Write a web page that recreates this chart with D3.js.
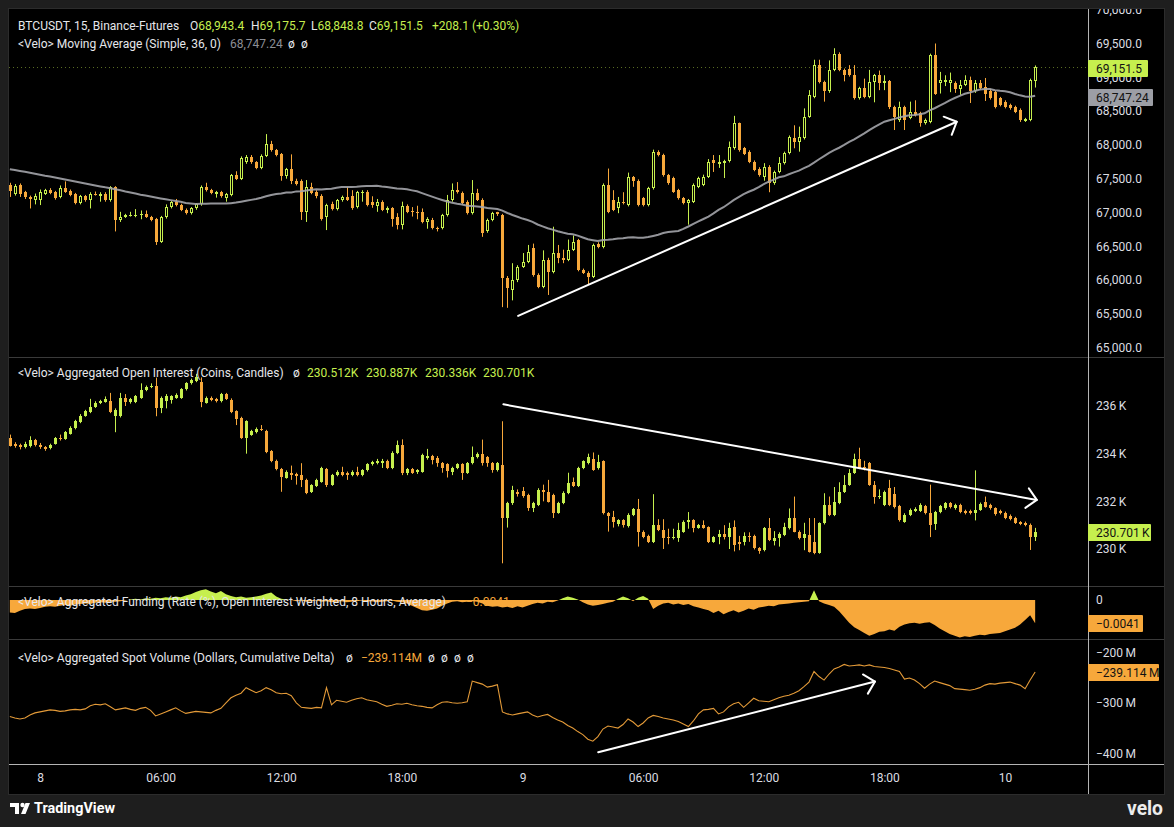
<!DOCTYPE html>
<html><head><meta charset="utf-8">
<script src="https://cdn.jsdelivr.net/npm/d3@7/dist/d3.min.js"></script>
<style>
html,body{margin:0;padding:0;background:#1e1e1e;}
svg{display:block;}
text{font-family:Roboto,"Noto Sans",Arial,sans-serif;}
</style></head><body>
<svg id="chart" width="1174" height="827"></svg>
<script>
// ---------- DATA (15-minute bars, first bar 2024-06-07 22:30 UTC) ----------
const barStart = "2024-06-07T22:30:00Z";

const priceOpen = [
67406,67273,67406,67300,67230,67180,67184,67280,67340,67300,
67230,67360,67320,67270,67140,67240,67180,67280,67250,67280,
67180,67370,66890,66940,66960,66955,66965,66980,66930,66900,
66570,66930,67080,67150,67110,67040,66990,67060,67120,67370,
67330,67280,67300,67220,67260,67550,67500,67740,67820,67740,
67660,67840,68020,67920,67860,67540,67640,67460,67470,67010,
67370,67300,67250,66940,67130,67050,67180,67230,67240,67080,
67290,67310,67160,67090,67160,67040,67060,66940,66820,67090,
67020,67010,67010,66860,66890,66770,66770,66960,67180,67330,
67290,67160,66990,67290,67190,66720,66890,67000,66960,66030,
65850,66000,66200,66270,66470,66075,65900,66300,66120,66400,
66320,66300,66450,66590,66150,66110,66050,66530,66490,67410,
67180,67060,67160,67110,67530,67470,67210,67110,67360,67900,
67850,67550,67510,67330,67210,67140,67160,67380,67410,67530,
67780,67720,67730,67760,67950,68320,67950,67900,67750,67650,
67530,67680,67430,67600,67730,67880,68100,68050,68100,68420,
68710,69180,68930,68790,69110,69350,69110,69130,69030,68690,
68840,68710,68930,69030,68910,68940,68560,68370,68560,68400,
68490,68470,68320,68340,69330,68910,68930,68920,68920,68820,
68890,68960,68790,68910,68860,68790,68780,68690,68640,68590,
68560,68520,68360,68370,68943.4];
const priceHigh = [
67440,67420,67430,67320,67250,67280,67340,67350,67360,67320,
67400,67460,67340,67290,67260,67260,67300,67310,67300,67300,
67390,67390,67010,66980,67010,67050,67030,67030,66950,66920,
66950,67120,67170,67200,67130,67060,67080,67140,67400,67440,
67350,67320,67320,67290,67570,67610,67830,67850,67850,67760,
67860,68160,68060,67940,67880,67660,67860,67500,67490,67480,
67440,67330,67270,67130,67160,67200,67250,67380,67330,67320,
67330,67330,67240,67200,67180,67090,67080,66990,67160,67120,
67080,67100,67060,66930,66920,66790,66980,67260,67430,67450,
67310,67180,67480,67350,67210,66910,67010,67010,66980,66060,
66250,66220,66400,66520,66540,66100,66440,66330,66790,66520,
66450,66600,66660,66610,66170,66130,66540,66560,67430,67650,
67330,67230,67300,67590,67540,67490,67230,67380,67930,67920,
67870,67570,67530,67350,67230,67200,67430,67530,67560,67790,
67850,67850,67780,68050,68430,68330,67970,67920,67770,67670,
67730,67700,67620,67820,67900,68140,68290,68270,68540,68810,
69260,69260,68950,69250,69430,69370,69130,69180,69180,68860,
68980,69110,69050,69100,69030,68960,68580,68640,68580,68640,
68660,68490,68390,69350,69500,69080,69030,69070,68940,68960,
69030,69010,68960,68960,68990,68830,68800,68710,68660,68610,
68580,68540,68400,68980,69175.7];
const priceLow = [
67230,67250,67230,67200,67060,67120,67110,67260,67270,67190,
67210,67290,67240,67120,67120,67160,67060,67250,67160,67160,
67160,66720,66860,66920,66940,66930,66900,66920,66870,66520,
66550,66910,67060,67090,67020,66970,66970,67040,67100,67310,
67270,67220,67220,67160,67240,67480,67480,67720,67720,67640,
67640,67820,67900,67830,67470,67500,67420,67400,66890,66860,
67270,67210,66880,66740,67030,67030,67160,67170,67040,67060,
67160,67090,67070,67010,67020,66990,66790,66750,66750,66990,
66940,66900,66840,66760,66750,66720,66750,66940,67160,67280,
67120,66970,66970,67170,66640,66700,66870,66950,65600,65590,
65700,65970,66180,66250,66050,65880,65880,65780,66100,66250,
66250,66280,66430,66130,66090,65930,66030,66470,66470,66990,
67020,66990,67120,67090,67380,67090,67090,67090,67340,67830,
67530,67410,67290,67190,67120,66820,67140,67360,67390,67510,
67600,67660,67510,67740,67930,67900,67850,67730,67610,67530,
67470,67300,67410,67580,67710,67860,67950,67900,68080,68400,
68690,68910,68640,68770,69090,69090,68940,69010,68670,68670,
68690,68690,68630,68810,68810,68530,68220,68340,68220,68380,
68420,68270,68300,68320,68740,68760,68870,68780,68770,68740,
68870,68620,68770,68820,68650,68670,68540,68570,68540,68520,
68470,68340,68340,68350,68848.8];
const priceClose = [
67322,67396,67273,67230,67200,67250,67300,67330,67290,67210,
67360,67310,67260,67140,67240,67180,67280,67260,67280,67180,
67370,66890,66940,66960,66960,66965,66975,66930,66890,66570,
66930,67080,67150,67110,67040,66990,67060,67120,67380,67330,
67290,67300,67240,67270,67550,67500,67810,67820,67740,67660,
67840,68010,67920,67850,67540,67640,67460,67420,67010,67380,
67290,67240,66910,67110,67050,67180,67230,67190,67060,67300,
67310,67110,67110,67160,67040,67060,66910,66820,67090,67010,
67000,66990,66860,66910,66770,66750,66960,67180,67330,67300,
67140,66990,67290,67190,66690,66890,66990,66980,66030,65880,
66000,66200,66270,66420,66075,65900,66300,66120,66400,66320,
66300,66450,66570,66150,66110,66050,66520,66490,67410,67010,
67040,67160,67140,67530,67460,67110,67110,67360,67900,67850,
67550,67430,67310,67210,67140,67180,67410,67510,67530,67750,
67730,67740,67760,67970,68320,67920,67870,67750,67630,67550,
67680,67430,67600,67730,67880,68120,68050,68110,68420,68740,
69180,68930,68790,69110,69350,69110,69030,69030,68690,68840,
68710,68930,69030,68910,68950,68560,68420,68560,68370,68490,
68440,68320,68370,69330,68760,68960,68960,68960,68820,68890,
68960,68790,68910,68840,68760,68690,68560,68590,68560,68540,
68490,68370,68380,68960,69151.5];
// SMA(36) values for the bars before 36 closes are available
const maEarly = [
67640,67628,67615,67602,67588,67574,67560,67545,67532,67518,
67503,67488,67474,67460,67445,67430,67415,67400,67386,67372,
67360,67345,67330,67312,67296,67280,67264,67250,67236,67222,
67208,67195,67183,67170,67158];

const oiOpen = [
234.66,234.42,234.36,234.27,234.31,234.59,234.38,234.27,234.22,234.42,
234.66,234.62,234.84,235.08,235.32,235.60,235.74,235.97,236.12,236.18,
236.23,235.60,235.57,236.35,236.15,236.17,236.35,236.69,236.80,236.83,
235.92,236.22,236.25,236.35,236.35,236.70,236.95,237.05,237.00,236.14,
236.35,236.28,236.20,236.50,236.27,235.78,235.50,234.66,234.80,234.90,
235.05,234.95,234.10,233.70,233.36,233.00,233.20,233.15,233.12,232.90,
232.40,232.65,232.83,233.36,232.70,233.10,233.25,233.20,233.10,233.25,
233.10,233.30,233.55,233.60,233.62,233.70,233.40,234.03,234.38,233.20,
233.35,233.25,233.25,233.80,233.90,233.80,233.60,233.55,233.25,233.40,
233.55,233.20,233.60,233.85,233.98,233.85,233.60,233.30,233.54,231.29,
231.92,232.40,232.45,232.27,231.72,231.85,232.48,232.41,232.27,231.53,
231.92,232.35,232.80,232.65,233.40,233.60,233.78,233.38,233.68,231.50,
231.36,231.05,231.20,230.95,231.43,231.67,230.73,230.55,230.30,231.00,
230.80,230.50,230.45,230.45,230.73,231.15,231.20,230.90,231.00,230.91,
230.31,230.49,230.65,230.49,230.94,230.30,230.30,230.55,230.55,230.03,
229.96,230.87,230.35,230.45,230.59,230.87,231.29,230.73,230.45,230.59,
230.30,229.85,231.08,231.85,231.43,231.92,232.40,232.70,233.20,233.78,
233.45,233.60,232.70,232.18,231.85,232.55,232.30,231.80,231.15,231.42,
231.60,231.60,231.80,231.50,231.05,231.55,231.70,231.92,231.70,231.85,
231.60,231.60,231.52,231.65,231.98,231.85,231.70,231.60,231.52,231.40,
231.30,231.12,231.10,231.02,230.512];
const oiHigh = [
234.80,234.48,234.42,234.50,234.73,234.62,234.45,234.32,234.42,234.70,
234.80,234.95,235.15,235.42,235.66,235.84,236.30,236.20,236.26,236.40,
236.55,235.90,236.55,236.50,236.34,236.46,236.95,236.86,236.95,237.19,
236.40,236.50,236.45,236.53,236.75,237.00,237.15,237.35,237.20,236.40,
236.40,236.34,236.55,236.55,236.32,235.82,235.55,235.40,235.00,235.10,
235.20,235.00,234.15,233.75,233.40,233.30,233.50,233.20,233.60,232.95,
232.72,232.95,233.45,233.40,233.15,233.30,233.45,233.25,233.30,233.45,
233.35,233.60,233.70,233.78,233.78,233.75,234.10,234.55,234.60,233.40,
233.40,233.35,234.00,234.20,233.95,233.90,233.65,233.60,233.45,233.60,
233.60,233.65,234.30,234.05,234.59,233.90,233.65,233.65,235.36,231.98,
232.65,232.50,232.60,232.32,231.98,232.55,232.70,232.90,232.32,231.98,
232.42,233.20,233.00,233.45,233.72,234.00,234.05,233.95,233.72,231.55,
231.60,231.25,231.25,231.50,231.72,232.10,230.78,230.60,232.30,231.25,
231.25,230.85,230.85,231.10,231.20,231.55,231.25,231.05,231.20,230.95,
230.54,230.80,231.00,231.10,231.20,230.55,230.70,230.70,230.60,230.08,
230.92,231.30,230.75,230.70,231.10,231.70,232.20,230.78,231.10,231.30,
231.30,231.12,232.34,232.20,232.60,232.80,233.10,233.35,234.00,234.25,
233.70,233.65,232.85,232.50,232.45,232.90,232.60,231.85,231.50,231.70,
231.75,231.92,231.85,232.70,231.60,231.85,231.97,231.97,231.90,231.90,
231.65,231.65,233.30,231.95,232.20,231.90,231.75,231.65,231.57,231.45,
231.35,231.17,231.15,231.07,230.887];
const oiLow = [
234.30,234.25,234.18,234.22,234.26,234.30,234.20,234.12,234.18,234.38,
234.55,234.58,234.80,235.02,235.28,235.55,235.70,235.92,236.08,236.14,
235.70,234.90,235.52,236.00,236.10,236.12,236.30,236.62,236.75,235.57,
235.70,235.90,236.10,236.30,236.30,236.65,236.90,237.00,235.95,236.10,
236.20,236.15,236.15,236.25,235.70,235.20,234.62,234.00,234.75,234.85,
234.95,234.02,233.64,233.30,232.40,232.95,232.90,232.70,232.60,232.30,
232.35,232.60,232.78,232.60,232.65,233.05,233.05,232.90,233.05,233.05,
233.05,233.25,233.50,233.55,233.40,233.35,233.35,233.98,233.10,233.10,
233.15,233.15,233.20,233.75,233.55,233.45,233.20,233.00,233.10,233.35,
232.90,233.15,233.55,233.80,233.50,233.45,233.20,233.25,229.40,230.90,
231.85,232.20,232.15,231.60,231.55,231.80,232.00,231.95,231.30,231.48,
231.88,232.30,232.60,232.60,233.35,233.55,233.28,233.33,231.45,230.73,
230.90,230.95,230.90,230.90,231.38,230.10,230.45,230.25,230.25,230.75,
230.00,230.20,230.40,230.30,230.68,230.85,230.70,230.85,230.85,230.25,
230.26,230.20,230.40,230.00,229.90,229.95,230.15,230.30,229.98,229.80,
229.90,230.33,230.15,230.10,230.54,230.82,230.70,230.40,229.95,229.85,
229.78,229.80,231.03,231.38,231.38,231.88,232.35,232.65,233.15,233.35,
233.30,232.65,231.90,232.10,231.80,231.80,231.70,231.15,231.10,231.38,
231.55,231.55,231.45,230.50,230.80,231.50,231.65,231.70,231.65,231.50,
231.45,231.45,231.20,231.60,231.73,231.65,231.40,231.45,231.25,231.20,
231.05,231.00,230.95,229.96,230.336];
const oiClose = [
234.34,234.31,234.27,234.40,234.59,234.38,234.27,234.20,234.38,234.66,
234.62,234.90,235.08,235.36,235.60,235.78,235.97,236.14,236.20,236.30,
235.74,235.85,236.35,236.15,236.28,236.41,236.69,236.80,236.85,235.92,
236.35,236.40,236.40,236.48,236.70,236.95,237.10,237.20,236.17,236.35,
236.25,236.20,236.50,236.30,235.74,235.46,234.66,235.36,234.95,235.05,
235.00,234.06,233.68,233.36,233.02,233.25,233.10,233.05,232.88,232.35,
232.68,232.90,233.40,232.70,233.10,233.25,233.12,233.10,233.25,233.12,
233.30,233.55,233.65,233.70,233.70,233.40,234.03,234.38,233.19,233.35,
233.20,233.30,233.96,233.90,233.75,233.60,233.40,233.26,233.40,233.55,
233.20,233.60,233.86,234.00,233.60,233.60,233.30,233.60,231.29,231.92,
232.48,232.30,232.23,231.71,231.92,232.48,232.40,231.99,231.50,231.92,
232.37,232.79,232.65,233.40,233.68,233.85,233.33,233.65,231.50,231.37,
231.15,231.20,231.00,231.43,231.67,230.73,230.52,230.30,231.00,230.80,
230.45,230.45,230.50,230.80,231.15,231.20,230.90,231.00,230.90,230.31,
230.49,230.65,230.49,230.90,230.17,230.20,230.55,230.50,230.03,229.90,
230.87,230.38,230.45,230.65,230.94,231.29,230.73,230.45,230.65,229.89,
229.82,231.08,231.85,231.43,231.99,232.41,232.70,233.20,233.78,233.40,
233.40,232.70,232.20,232.22,232.40,231.85,231.75,231.20,231.42,231.63,
231.66,231.85,231.50,231.00,231.55,231.80,231.92,231.75,231.85,231.55,
231.50,231.50,231.65,231.90,231.78,231.70,231.45,231.50,231.30,231.25,
231.10,231.05,231.00,230.51,230.701];

const fundingRate = [
-0.0022,-0.0023,-0.0019,-0.0016,-0.0015,-0.0016,-0.0014,-0.0012,-0.0011,-0.0012,
-0.0010,-0.0009,-0.0010,-0.0008,-0.0007,-0.0006,-0.0007,-0.0005,-0.0004,-0.0005,
-0.0003,-0.0003,-0.0002,-0.0001,0.0001,0.0002,0.0001,0.0003,0.0002,0.0004,
0.0003,0.0005,0.0004,0.0006,0.0005,0.0008,0.0010,0.0014,0.0017,0.0019,
0.0015,0.0012,0.0016,0.0010,0.0007,0.0005,0.0006,0.0004,0.0005,0.0006,
0.0008,0.0011,0.0013,0.0006,0.0002,0.0001,0.0000,-0.0002,-0.0001,-0.0003,
-0.0002,-0.0001,-0.0003,-0.0002,-0.0004,-0.0003,-0.0002,-0.0004,-0.0003,-0.0002,
-0.0001,-0.0003,-0.0002,-0.0004,-0.0003,-0.0002,-0.0001,-0.0003,-0.0004,-0.0006,
-0.0010,-0.0014,-0.0018,-0.0019,-0.0017,-0.0015,-0.0010,-0.0006,-0.0003,-0.0002,
-0.0004,-0.0003,-0.0002,-0.0003,-0.0006,-0.0010,-0.0012,-0.0011,-0.0013,-0.0012,
-0.0014,-0.0011,-0.0013,-0.0010,-0.0007,-0.0005,-0.0006,-0.0003,-0.0004,-0.0001,
0.0003,0.0006,0.0004,0.0001,-0.0004,-0.0008,-0.0010,-0.0009,-0.0007,-0.0005,
-0.0003,0.0002,0.0006,0.0003,-0.0002,0.0004,0.0007,0.0002,-0.0016,-0.0010,
-0.0006,-0.0005,-0.0008,-0.0006,-0.0009,-0.0007,-0.0011,-0.0013,-0.0016,-0.0018,
-0.0023,-0.0019,-0.0025,-0.0021,-0.0018,-0.0022,-0.0019,-0.0015,-0.0017,-0.0013,
-0.0012,-0.0010,-0.0011,-0.0008,-0.0007,-0.0006,-0.0005,-0.0004,-0.0003,-0.0002,
0.0017,-0.0002,-0.0006,-0.0009,-0.0012,-0.0020,-0.0030,-0.0040,-0.0048,-0.0053,
-0.0058,-0.0063,-0.0060,-0.0056,-0.0055,-0.0052,-0.0054,-0.0047,-0.0043,-0.0041,
-0.0040,-0.0042,-0.0040,-0.0039,-0.0044,-0.0050,-0.0055,-0.0060,-0.0063,-0.0066,
-0.0064,-0.0065,-0.0063,-0.0061,-0.0062,-0.0060,-0.0059,-0.0058,-0.0055,-0.0052,
-0.0049,-0.0043,-0.0035,-0.0027,-0.0041];

const spotCvd = [
-327,-330,-332,-330,-324,-320,-318,-316,-314,-315,
-317,-316,-314,-313,-314,-312,-306,-303,-304,-302,
-308,-314,-312,-310,-313,-315,-311,-309,-315,-326,
-322,-318,-314,-310,-316,-321,-319,-317,-318,-319,
-320,-315,-311,-300,-290,-285,-281,-270,-275,-280,
-276,-270,-274,-280,-282,-281,-286,-300,-309,-310,
-311,-309,-310,-270,-304,-295,-297,-299,-295,-292,
-290,-294,-296,-298,-303,-307,-305,-302,-303,-301,
-304,-306,-307,-309,-310,-304,-299,-298,-300,-301,
-300,-298,-257,-260,-263,-269,-267,-264,-318,-322,
-324,-322,-320,-318,-324,-328,-325,-323,-329,-334,
-338,-345,-350,-357,-363,-372,-376,-367,-352,-346,
-348,-350,-343,-332,-338,-347,-340,-330,-325,-327,
-330,-332,-334,-337,-342,-347,-336,-322,-314,-313,
-311,-322,-318,-308,-302,-299,-309,-300,-291,-296,
-297,-298,-294,-290,-287,-285,-281,-276,-268,-259,
-238,-248,-255,-243,-233,-229,-224,-227,-226,-225,
-227,-225,-228,-229,-230,-232,-235,-238,-253,-251,
-255,-262,-271,-263,-257,-260,-263,-266,-272,-273,
-274,-275,-273,-270,-265,-262,-263,-261,-260,-259,
-262,-265,-272,-255,-239.114];

const priceTicks = [65000,65500,66000,66500,67000,67500,68000,68500,69000,69500,70000];
const oiTicks = [230,232,234,236];
const fundingTicks = [0];
const cvdTicks = [-400,-300,-200];
const timeTicks = ["2024-06-08T00:00:00Z","2024-06-08T06:00:00Z","2024-06-08T12:00:00Z","2024-06-08T18:00:00Z",
  "2024-06-09T00:00:00Z","2024-06-09T06:00:00Z","2024-06-09T12:00:00Z","2024-06-09T18:00:00Z","2024-06-10T00:00:00Z"];

// hand-drawn trend arrows (time, value) in each pane
const trendLines = [
  {pane:"main", from:["2024-06-08T23:47:00Z",65470], to:["2024-06-09T21:36:00Z",68343]},
  {pane:"oi",   from:["2024-06-08T23:03:00Z",236.07], to:["2024-06-10T01:35:00Z",232.06]},
  {pane:"spot", from:["2024-06-09T03:46:00Z",-398], to:["2024-06-09T17:32:00Z",-258]}
];

// ---------- DRAWING ----------
const svg = d3.select("#chart");
const UP="#c6ef4e", DOWN="#f7a83b", TXT="#dcdde2", FRAME="#1e1e1e";
const L=9, R=1088, AX=1164, T=9, B=794;
const panes = {main:[T,357], oi:[358,586], fund:[587,639], spot:[640,764]};

const t0 = Date.parse(barStart);
const times = priceClose.map((d,j)=>new Date(t0 + j*15*60000));
const x = d3.scaleUtc().domain([new Date("2024-06-08T00:00:00Z"), new Date("2024-06-10T00:00:00Z")]).range([40,1005]);
const yP = d3.scaleLinear().domain([65000,70000]).range([347.7,9.7]);
const yOI = d3.scaleLinear().domain([230,236]).range([549,406]);
const yF = d3.scaleLinear().domain([-0.0041,0]).range([623.3,600]);
const yS = d3.scaleLinear().domain([-400,-200]).range([753.3,652.3]);
const scales = {main:yP, oi:yOI, fund:yF, spot:yS};

svg.append("rect").attr("width",1174).attr("height",827).attr("fill",FRAME);
svg.append("rect").attr("x",L).attr("y",T).attr("width",AX-L).attr("height",B-T).attr("fill","#000");

const defs = svg.append("defs");
Object.entries(panes).forEach(([k,[a,b]])=>{
  defs.append("clipPath").attr("id","clip-"+k).append("rect").attr("x",L).attr("y",a).attr("width",R-L).attr("height",b-a);
});
defs.append("clipPath").attr("id","clip-fpos").append("rect").attr("x",L).attr("y",panes.fund[0]).attr("width",R-L).attr("height",yF(0)-panes.fund[0]);
defs.append("clipPath").attr("id","clip-fneg").append("rect").attr("x",L).attr("y",yF(0)).attr("width",R-L).attr("height",panes.fund[1]-yF(0));

// separators
const sep = svg.append("g");
[357.5,586.5,639.5].forEach(yy=>sep.append("line").attr("x1",L).attr("x2",AX).attr("y1",yy).attr("y2",yy).attr("stroke","#3a3a3a"));
sep.append("line").attr("x1",L).attr("x2",AX).attr("y1",764.5).attr("y2",764.5).attr("stroke","#b4b4b4");
sep.append("line").attr("x1",R+0.5).attr("x2",R+0.5).attr("y1",T).attr("y2",B).attr("stroke","#b4b4b4");

const px = j => Math.round(x(times[j]));

function candles(g, O, Hh, Lo, C, y, hollow){
  const idx = d3.range(C.length);
  g.selectAll("line").data(idx).join("line")
    .attr("x1",j=>px(j)+0.5).attr("x2",j=>px(j)+0.5)
    .attr("y1",j=>y(Math.max(Hh[j],O[j],C[j]))).attr("y2",j=>y(Math.min(Lo[j],O[j],C[j])))
    .attr("stroke",j=>C[j]>=O[j]?UP:DOWN).attr("stroke-width",1);
  g.selectAll("rect").data(idx).join("rect")
    .each(function(j){
      const up = C[j]>=O[j];
      const top = Math.round(y(Math.max(O[j],C[j])));
      const h = Math.max(1, Math.round(y(Math.min(O[j],C[j]))) - top);
      const r = d3.select(this);
      if(up && hollow && h>2){
        r.attr("x",px(j)-0.5).attr("y",top+0.5).attr("width",2).attr("height",h-1)
         .attr("fill","#000").attr("stroke",UP).attr("stroke-width",1);
      } else {
        r.attr("x",px(j)-1).attr("y",top).attr("width",3).attr("height",h).attr("fill",up?UP:DOWN);
      }
    });
}

// main pane
const gMain = svg.append("g").attr("clip-path","url(#clip-main)");
const lastY = Math.round(yP(priceClose[priceClose.length-1]))+0.5;
gMain.append("line").attr("x1",L).attr("x2",R).attr("y1",lastY).attr("y2",lastY)
  .attr("stroke",UP).attr("stroke-opacity",0.45).attr("stroke-dasharray","1 3");
candles(gMain.append("g"), priceOpen, priceHigh, priceLow, priceClose, yP, true);
const maVals = priceClose.map((c,j)=> j<maEarly.length ? maEarly[j] : d3.mean(priceClose.slice(j-35,j+1)));
gMain.append("path").datum(maVals)
  .attr("d", d3.line().x((d,j)=>x(times[j])).y(d=>yP(d)))
  .attr("fill","none").attr("stroke","#a3a4aa").attr("stroke-opacity",0.9).attr("stroke-width",2);

// OI pane
const gOI = svg.append("g").attr("clip-path","url(#clip-oi)");
candles(gOI.append("g"), oiOpen, oiHigh, oiLow, oiClose, yOI, false);

// funding pane
const gF = svg.append("g").attr("clip-path","url(#clip-fund)");
const fArea = d3.area().x((d,j)=>x(times[j])).y0(yF(0)).y1(d=>yF(d));
gF.append("path").datum(fundingRate).attr("d",fArea).attr("fill",UP).attr("clip-path","url(#clip-fpos)");
gF.append("path").datum(fundingRate).attr("d",fArea).attr("fill",DOWN).attr("clip-path","url(#clip-fneg)");

// spot CVD pane
const gS = svg.append("g").attr("clip-path","url(#clip-spot)");
gS.append("path").datum(spotCvd)
  .attr("d", d3.line().x((d,j)=>x(times[j])).y(d=>yS(d)))
  .attr("fill","none").attr("stroke","#e39a38").attr("stroke-width",1.1);

// trend arrows
trendLines.forEach(tl=>{
  const ys = scales[tl.pane];
  const x1 = x(new Date(tl.from[0])), y1 = ys(tl.from[1]);
  const x2 = x(new Date(tl.to[0])), y2 = ys(tl.to[1]);
  const g = svg.append("g").attr("clip-path","url(#clip-"+tl.pane+")")
    .attr("stroke","#ffffff").attr("stroke-width",2).attr("fill","none").attr("stroke-linecap","round").attr("stroke-linejoin","round");
  g.append("line").attr("x1",x1).attr("y1",y1).attr("x2",x2).attr("y2",y2);
  const back = Math.atan2(y1-y2, x1-x2), a = Math.PI/4, len = 14;
  const p = s => [x2 + len*Math.cos(back+s*a), y2 + len*Math.sin(back+s*a)];
  const [ax1,ay1] = p(1), [ax2,ay2] = p(-1);
  g.append("path").attr("d",`M${ax1},${ay1}L${x2},${y2}L${ax2},${ay2}`);
});

// right axes
function rightAxis(scale, ticks, fmt){
  const g = svg.append("g").attr("transform",`translate(${R},0)`)
    .call(d3.axisRight(scale).tickValues(ticks).tickSize(0).tickPadding(8).tickFormat(fmt));
  g.select(".domain").remove();
  g.attr("font-family","Roboto, 'Noto Sans', sans-serif").attr("font-size",12);
  g.selectAll("text").attr("fill",TXT);
  return g;
}
rightAxis(yP, priceTicks, d3.format(",.1f"));
rightAxis(yOI, oiTicks, d=>d+"\u2009K");
rightAxis(yF, fundingTicks, d=>"0");
rightAxis(yS, cvdTicks, d=>"\u2212"+Math.abs(d)+"\u2009M");

// time axis
const gx = svg.append("g").attr("transform","translate(0,764)")
  .call(d3.axisBottom(x).tickValues(timeTicks.map(s=>new Date(s))).tickSize(0).tickPadding(9)
    .tickFormat(d=>d.getUTCHours()===0 ? String(d.getUTCDate()) : d3.utcFormat("%H:%M")(d)));
gx.select(".domain").remove();
gx.attr("font-family","Roboto, 'Noto Sans', sans-serif").attr("font-size",12);
gx.selectAll("text").attr("fill",TXT);

// price tags on the axis
function tag(yc, w, bg, label, fg){
  svg.append("rect").attr("x",R).attr("y",Math.round(yc)-8).attr("width",w).attr("height",17).attr("fill",bg).attr("rx",1);
  svg.append("text").attr("x",R+8).attr("y",Math.round(yc)+4.5).attr("font-size",12).attr("fill",fg||"#131313").text(label);
}
tag(yP(priceClose[priceClose.length-1])+1, 60, UP, "69,151.5");
tag(yP(maVals[maVals.length-1])+1, 65, "#9c9ea5", d3.format(",.2f")(68747.24));
tag(yOI(oiClose[oiClose.length-1]), 63, UP, "230.701\u2009K");
tag(yF(fundingRate[fundingRate.length-1]), 55, DOWN, "\u22120.0041");
tag(yS(spotCvd[spotCvd.length-1]), 71, DOWN, "\u2212239.114\u2009M");

// legends: each part = [[tspan text, colour], ...], x start
function legend(parts, cy){
  parts.forEach(([spans,x0])=>{
    const t = svg.append("text").attr("x",x0).attr("y",cy+4.5).attr("font-size",12);
    spans.forEach(([s,c])=>t.append("tspan").attr("fill",c).text(s));
  });
}
const WH="#e6e7eb", GR="#8d8f96";
legend([[[["BTCUSDT, 15, Binance-Futures",WH]],18],
        [[["O",WH],["68,943.4",UP]],190],
        [[["H",WH],["69,175.7",UP]],251],
        [[["L",WH],["68,848.8",UP]],311],
        [[["C",WH],["69,151.5",UP]],369],
        [[["+208.1 (+0.30%)",UP]],432]], 25);
legend([[[["<Velo> Moving Average (Simple, 36, 0)",WH]],18],
        [[["68,747.24",GR]],230],
        [[["ø",WH]],288],[[["ø",WH]],301]], 43);
legend([[[["<Velo> Aggregated Open Interest (Coins, Candles)",WH]],18],[[["ø",WH]],293],
        [[["230.512K",UP]],307],[[["230.887K",UP]],366],[[["230.336K",UP]],425],[[["230.701K",UP]],483]], 372);
legend([[[["<Velo> Aggregated Funding (Rate (%), Open Interest Weighted, 8 Hours, Average)",WH]],18],
        [[["\u22120.0041",DOWN]],466]], 601);
legend([[[["<Velo> Aggregated Spot Volume (Dollars, Cumulative Delta)",WH]],18],[[["ø",WH]],346],
        [[["\u2212239.114M",DOWN]],361],[[["ø",WH]],428],[[["ø",WH]],441],[[["ø",WH]],454],[[["ø",WH]],467]], 657);

// frame on top
svg.append("path").attr("d",`M0,0H1174V827H0Z M${L},${T}V${B}H${AX}V${T}Z`).attr("fill",FRAME).attr("fill-rule","evenodd");
svg.append("rect").attr("x",L-0.5).attr("y",T-0.5).attr("width",AX-L+1).attr("height",B-T+1).attr("fill","none").attr("stroke","#2c2c2c");

// footer logos
const logo = svg.append("g").attr("fill","#ffffff");
logo.append("path").attr("d","M10,803H19V814H15V807H10Z");
logo.append("circle").attr("cx",22.5).attr("cy",805).attr("r",2.2);
logo.append("path").attr("d","M21,814L25.5,803H30L25.5,814Z");
svg.append("text").attr("x",34).attr("y",813).attr("font-size",14).attr("font-weight",700).attr("fill","#ffffff")
  .attr("textLength",81).attr("lengthAdjust","spacingAndGlyphs").text("TradingView");
svg.append("text").attr("x",1127).attr("y",815).attr("font-size",21).attr("font-weight",700).attr("fill","#ececec")
  .attr("textLength",36).attr("lengthAdjust","spacingAndGlyphs").text("velo");
</script>
</body></html>
